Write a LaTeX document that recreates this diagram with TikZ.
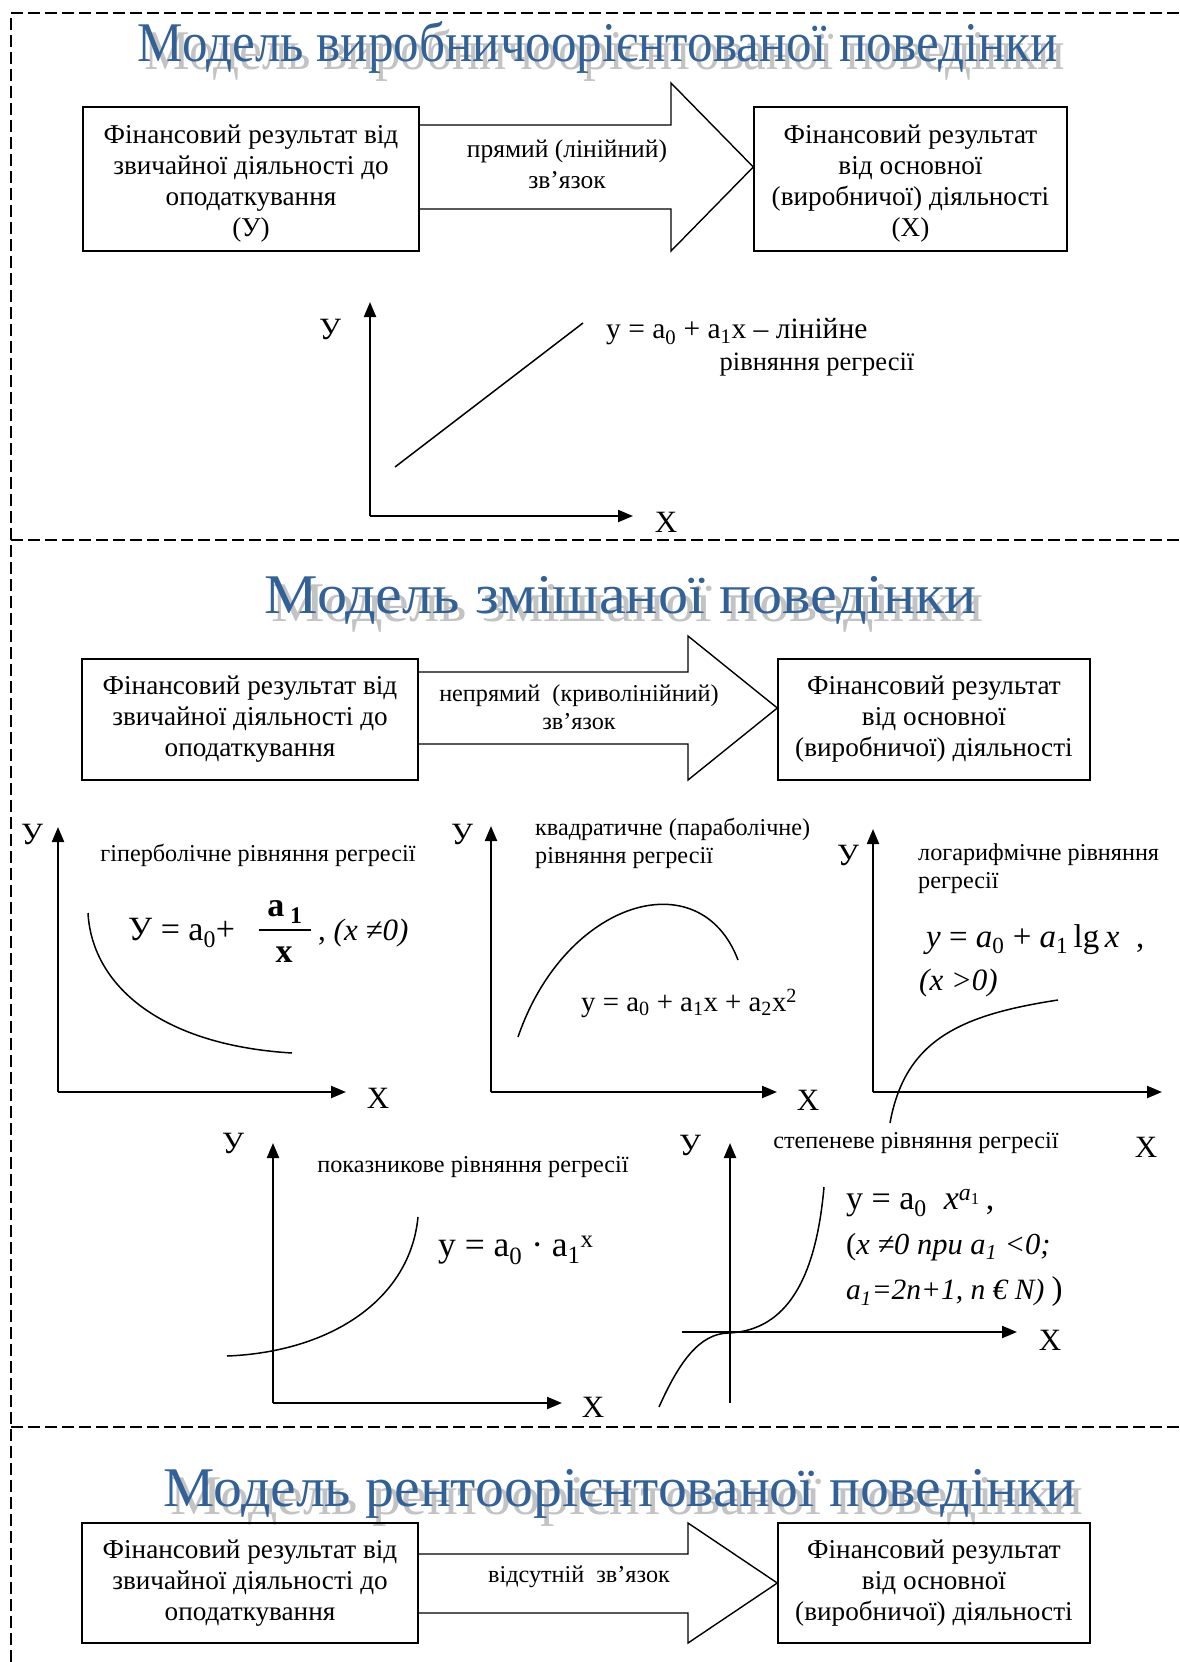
\documentclass[tikz,border=0pt]{standalone}
\usepackage{fontspec}
\usepackage{graphicx}
\setmainfont{Liberation Serif}
\usetikzlibrary{arrows.meta}
\definecolor{ttlblue}{RGB}{50,97,152}
\definecolor{ttlgray}{RGB}{195,195,195}
\tikzset{
  sep/.style={line width=2pt, dash pattern=on 12pt off 5pt},
  box/.style={draw, line width=1.4pt, align=center, inner sep=0pt,
    font=\fontsize{27.2}{31}\selectfont},
  blk/.style={draw, line width=1.4pt, line join=miter},
  arrtxt/.style={align=center, inner sep=0pt, font=\fontsize{25.5}{31}\selectfont},
  ttl/.style={anchor=base, inner sep=0pt, text=ttlblue, font=\fontsize{56}{56}\selectfont},
  ttls/.style={ttl, text=ttlgray},
  axis/.style={line width=2.2pt, -{Triangle[length=15pt,width=12pt]}},
  crv/.style={line width=1.5pt},
  lbl/.style={inner sep=0pt, align=left, font=\fontsize{24.2}{28}\selectfont},
  axl/.style={inner sep=0pt, font=\fontsize{31}{31}\selectfont},
  eq/.style={inner sep=0pt, align=left}
}
\begin{document}
\begin{tikzpicture}[x=1pt,y=-1pt]
\useasboundingbox (0,0) rectangle (1179,1662);
\fill[white] (0,0) rectangle (1179,1662);
% frame and separators
\draw[sep] (1179,13) -- (11,13) -- (11,1662);
\draw[sep] (11,540) -- (1179,540);
\draw[sep] (11,1427) -- (1179,1427);

% ---------- section 1 ----------
\node[ttls] (t1s) at (605,70) {\resizebox{920pt}{\height}{Модель виробничоорієнтованої поведінки}};
\node[ttl] (t1) at (598,62) {\resizebox{920pt}{\height}{Модель виробничоорієнтованої поведінки}};

\node[box, minimum width=336pt, minimum height=144pt] (L1) at (251,179)
  {\rule{0pt}{27pt}Фінансовий результат від\\звичайної діяльності до\\оподаткування\\(У)};
\node[box, minimum width=313pt, minimum height=144pt] (R1) at (910.5,179)
  {\rule{0pt}{27pt}Фінансовий результат\\від основної\\(виробничої) діяльності\\(Х)};
\draw[blk] (L1.east |- 0,125) -- (671,125) -- (671,83) -- (R1.west |- 0,167)
  -- (671,251) -- (671,209) -- (L1.east |- 0,209);
\node[arrtxt] (a1t) at (567,164) {прямий (лінійний)\\зв’язок};

% linear graph
\coordinate (o1) at (370,516);
\draw[axis] (o1) -- (370,302);
\draw[axis] (o1) -- (633,516);
\draw[crv] (395,467) -- (583,323);
\node[axl] (y1) at (330,329) {У};
\node[axl] (x1) at (666,522) {X};
\node[eq, anchor=west, font=\fontsize{29.5}{29.5}\selectfont] (e1) at (606,332)
  {y = a\textsubscript{0} + a\textsubscript{1}x – лінійне};
\node[lbl, font=\fontsize{26.5}{26.5}\selectfont] (e1b) at (817,365) {рівняння регресії};

% ---------- section 2 ----------
\node[ttls] (t2s) at (628,621) {\resizebox{712pt}{\height}{Модель змішаної поведінки}};
\node[ttl] (t2) at (621,613) {\resizebox{712pt}{\height}{Модель змішаної поведінки}};

\node[box, minimum width=336pt, minimum height=121pt] (L2) at (250,719.5)
  {Фінансовий результат від\\звичайної діяльності до\\оподаткування};
\node[box, minimum width=312pt, minimum height=121pt] (R2) at (934,719.5)
  {Фінансовий результат\\від основної\\(виробничої) діяльності};
\draw[blk] (L2.east |- 0,672) -- (688,672) -- (688,636) -- (R2.west |- 0,708)
  -- (688,780) -- (688,744) -- (L2.east |- 0,744);
\node[arrtxt, font=\fontsize{24.2}{28}\selectfont] (a2t) at (579,707) {непрямий\ \ (криволінійний)\\зв’язок};

% hyperbolic
\coordinate (o2) at (58,1092);
\draw[axis] (o2) -- (58,827);
\draw[axis] (o2) -- (346,1092);
\draw[crv] (88,913) .. controls (92,985) and (160,1045) .. (292,1053);
\node[axl] (y2) at (32,834) {У};
\node[axl] (x2) at (378,1098) {X};
\node[lbl] (h2) at (258,855) {гіперболічне рівняння регресії};
\node[eq, anchor=base west, font=\fontsize{34}{34}\selectfont] (e2) at (128,940)
  {У = a\textsubscript{0}+};
\node[eq, font=\fontsize{34}{34}\selectfont\bfseries] (e2n) at (285,912) {a\,\textsubscript{1}};
\node[eq, font=\fontsize{34}{34}\selectfont\bfseries] (e2d) at (284,955) {x};
\coordinate (e2l) at (259,930);
\coordinate (e2r) at (311,930);
\draw[line width=1.3pt] (e2l) -- (e2r);
\node[eq, anchor=base west, font=\fontsize{31}{31}\selectfont] (e2c) at (318,940)
  {, \textit{(x ≠0)}};

% quadratic
\coordinate (o3) at (491,1092);
\draw[axis] (o3) -- (491,826);
\draw[axis] (o3) -- (777,1092);
\draw[crv] (518,1037) .. controls (565,900) and (700,860) .. (738,960);
\node[axl] (y3) at (462,834) {У};
\node[axl] (x3) at (808,1100) {X};
\node[lbl, anchor=north west] (h3) at (535,818) {квадратичне (параболічне)\\рівняння регресії};
\node[eq, anchor=west, font=\fontsize{28.8}{28.8}\selectfont] (e3) at (581,1003)
  {y = a\textsubscript{0} + a\textsubscript{1}x + a\textsubscript{2}x\textsuperscript{2}};

% logarithmic
\coordinate (o4) at (873,1092);
\draw[axis] (o4) -- (873,829);
\draw[axis] (o4) -- (1162,1092);
\draw[crv] (890,1123) .. controls (905,1040) and (960,1015) .. (1058,1000);
\node[axl] (y4) at (848,855) {У};
\node[axl] (x4) at (1146,1147) {X};
\node[lbl, anchor=north west] (h4) at (918,843) {логарифмічне рівняння\\регресії};
\node[eq, anchor=base west, font=\fontsize{33}{33}\selectfont] (e4) at (926,947)
  {\textit{y} = \textit{a}\textsubscript{0} + \textit{a}\textsubscript{1}\,lg\,\textit{x} \ ,};
\node[eq, anchor=west, font=\fontsize{31}{31}\selectfont\itshape] (e4b) at (919,983) {(x >0)};

% exponential
\coordinate (o5) at (273,1403);
\draw[axis] (o5) -- (273,1143);
\draw[axis] (o5) -- (562,1403);
\draw[crv] (227,1356) .. controls (330,1352) and (410,1300) .. (418,1217);
\node[axl] (y5) at (233,1143) {У};
\node[axl] (x5) at (593,1407) {X};
\node[lbl] (h5) at (473,1167) {показникове рівняння регресії};
\node[eq, anchor=west, font=\fontsize{35.5}{35.5}\selectfont] (e5) at (438,1250)
  {y = a\textsubscript{0} · a\textsubscript{1}\textsuperscript{x}};

% power
\coordinate (o6) at (730,1332);
\draw[line width=2.2pt] (o6) -- (730,1403);
\draw[axis] (o6) -- (730,1143);
\draw[line width=2.2pt] (o6) -- (682,1332);
\draw[axis] (o6) -- (1017,1332);
\draw[crv] (659,1407) .. controls (680,1360) and (700,1334) .. (728,1333)
  .. controls (780,1331) and (815,1290) .. (824,1187);
\node[axl] (y6) at (690,1145) {У};
\node[axl] (x6) at (1050,1340) {X};
\node[lbl] (h6) at (916,1143) {степеневе рівняння регресії};
\node[eq, anchor=west, font=\fontsize{34}{34}\selectfont] (e6) at (846,1203)
  {y = a\textsubscript{0}\ \ \textit{x}\textsuperscript{\textit{a}\textsubscript{1}}\,,};
\node[eq, anchor=west, font=\fontsize{30.5}{30.5}\selectfont] (e6b) at (846,1247)
  {(\textit{x ≠0 при a\textsubscript{1} <0;}};
\node[eq, anchor=west, font=\fontsize{29.5}{29.5}\selectfont] (e6c) at (846,1292)
  {\textit{a\textsubscript{1}=2n+1, n € N)} {\fontsize{33}{33}\selectfont)}};

% ---------- section 3 ----------
\node[ttls] (t3s) at (627,1514) {\resizebox{912pt}{\height}{Модель рентоорієнтованої поведінки}};
\node[ttl] (t3) at (620,1506) {\resizebox{912pt}{\height}{Модель рентоорієнтованої поведінки}};

\node[box, minimum width=336pt, minimum height=120pt] (L3) at (250,1583)
  {Фінансовий результат від\\звичайної діяльності до\\оподаткування};
\node[box, minimum width=312pt, minimum height=120pt] (R3) at (934,1583)
  {Фінансовий результат\\від основної\\(виробничої) діяльності};
\draw[blk] (L3.east |- 0,1554) -- (688,1554) -- (688,1523) -- (R3.west |- 0,1583)
  -- (688,1643) -- (688,1613) -- (L3.east |- 0,1613);
\node[arrtxt, font=\fontsize{24.2}{28}\selectfont] (a3t) at (579,1577) {відсутній\ \ зв’язок};
\end{tikzpicture}
\end{document}
